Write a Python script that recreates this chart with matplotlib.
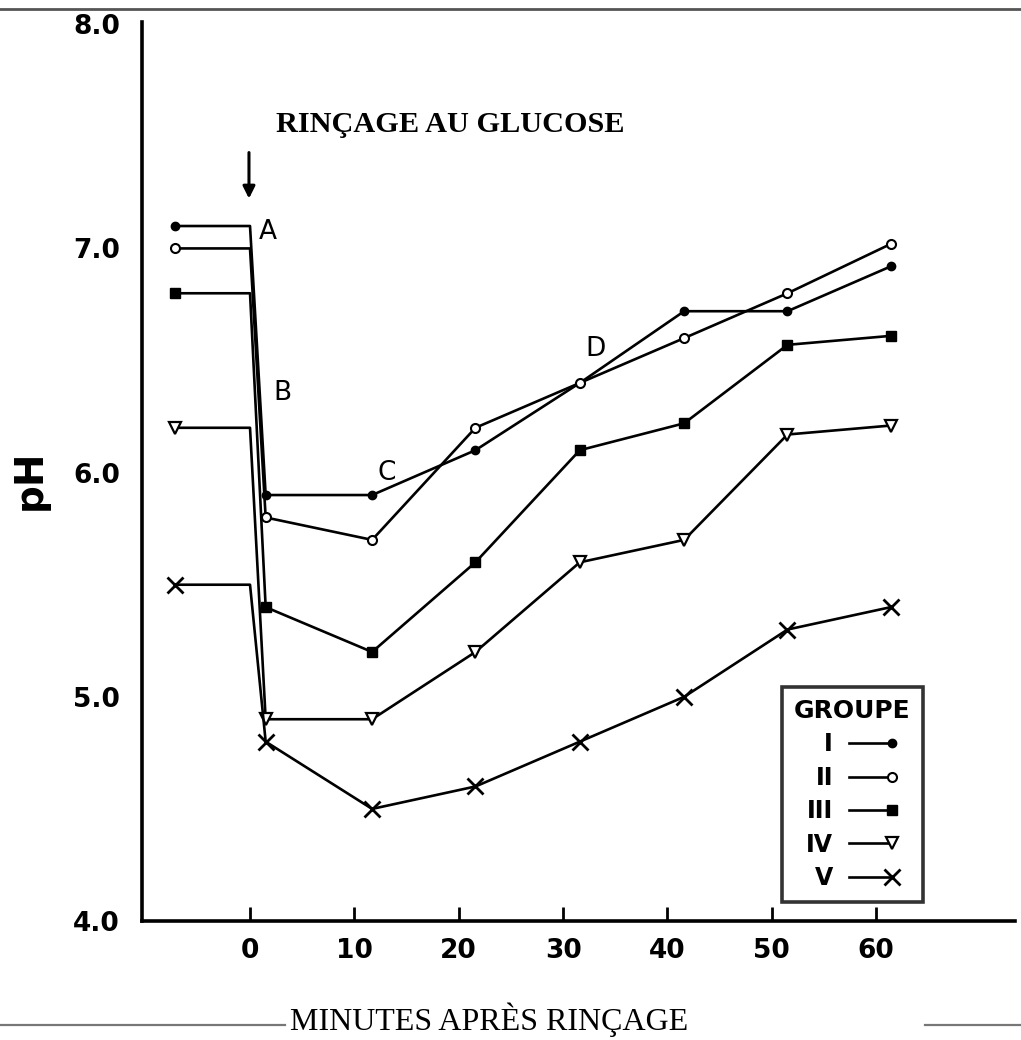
import matplotlib
matplotlib.use("Agg")
import matplotlib.pyplot as plt
from matplotlib.lines import Line2D
from matplotlib.legend_handler import HandlerLine2D

# minutes (start, rinse, just after rinse, then every ~10 min)
minutes = [-7.2, 0, 1.5, 11.7, 21.6, 31.6, 41.6, 51.5, 61.4]
ph_I = [7.1, 7.1, 5.9, 5.9, 6.1, 6.4, 6.72, 6.72, 6.92]
ph_II = [7.0, 7.0, 5.8, 5.7, 6.2, 6.4, 6.6, 6.8, 7.02]
ph_III = [6.8, 6.8, 5.4, 5.2, 5.6, 6.1, 6.22, 6.57, 6.61]
ph_IV = [6.2, 6.2, 4.9, 4.9, 5.2, 5.6, 5.7, 6.17, 6.21]
ph_V = [5.5, 5.5, 4.8, 4.5, 4.6, 4.8, 5.0, 5.3, 5.4]
groups = ["I", "II", "III", "IV", "V"]
xticks = [0, 10, 20, 30, 40, 50, 60]
yticks = [4.0, 5.0, 6.0, 7.0, 8.0]

series = [ph_I, ph_II, ph_III, ph_IV, ph_V]
styles = [
    dict(marker="o", ms=6, mfc="black"),
    dict(marker="o", ms=6.5, mfc="white", mew=1.5),
    dict(marker="s", ms=6.5, mfc="black"),
    dict(marker="v", ms=9, mfc="white", mew=1.6),
    dict(marker="x", ms=11, mew=2),
]


class EndMarker(HandlerLine2D):
    # legend sample: line with the marker at its right end
    def create_artists(self, *args, **kwargs):
        arts = super().create_artists(*args, **kwargs)
        for a in arts:
            a.set_markevery([len(a.get_xdata()) - 1])
        return arts


fig = plt.figure(figsize=(10.21, 10.40), dpi=100)
ax = fig.add_axes([142 / 1021, 1 - 921 / 1040, 873 / 1021, 899 / 1040])

handles = []
for ph, st, g in zip(series, styles, groups):
    ln, = ax.plot(minutes, ph, color="black", lw=1.9, mec="black",
                  markevery=[0, 2, 3, 4, 5, 6, 7, 8], label=g, **st)
    handles.append(ln)

ax.set_xlim(-10.35, 73.3)
ax.set_ylim(4.0, 8.01)
ax.set_xticks(xticks)
ax.set_xticklabels([str(v) for v in xticks])
ax.set_yticks(yticks)
ax.set_yticklabels(["%.1f" % v for v in yticks])
for s in ["top", "right"]:
    ax.spines[s].set_visible(False)
for s in ["left", "bottom"]:
    ax.spines[s].set_linewidth(2.6)
ax.tick_params(axis="x", direction="in", length=10, width=2, pad=12,
               labelsize=19)
ax.tick_params(axis="y", length=0, pad=16, labelsize=19)
for lab in ax.get_xticklabels() + ax.get_yticklabels():
    lab.set_fontweight("bold")

# letters along the curves
ax.text(1.7, 7.075, "A", fontsize=19, ha="center", va="center")
ax.text(3.1, 6.355, "B", fontsize=19, ha="center", va="center")
ax.text(13.1, 6.0, "C", fontsize=19, ha="center", va="center")
ax.text(33.1, 6.55, "D", fontsize=19, ha="center", va="center")
ax.annotate("", xy=(-0.1, 7.21), xytext=(-0.1, 7.44),
            arrowprops=dict(arrowstyle="-|>", color="black", lw=2.2,
                            mutation_scale=18))

leg = ax.legend(handles=handles, title="GROUPE", loc="lower left",
                bbox_to_anchor=(0.72, 0.008), markerfirst=False,
                numpoints=2, handlelength=2.4, handletextpad=0.4,
                labelspacing=0.4, fancybox=False, frameon=True,
                edgecolor="black", borderpad=0.5,
                prop=dict(size=17, weight="bold"),
                handler_map={Line2D: EndMarker()})
leg.get_title().set_fontweight("bold")
leg.get_title().set_fontsize(18)
leg.get_frame().set_linewidth(2.6)

fig.text(450 / 1021, 1 - 125 / 1040, "RINÇAGE AU GLUCOSE",
         family="Liberation Serif", fontsize=21.8, fontweight="bold",
         ha="center", va="center")
fig.text(489 / 1021, 1 - 1020 / 1040, "MINUTES APRÈS RINÇAGE",
         family="Liberation Serif", fontsize=23, ha="center", va="center")
fig.text(30 / 1021, 1 - 480 / 1040, "pH", fontsize=28, fontweight="bold",
         rotation=90, ha="center", va="center")

# scan border lines
fig.add_artist(Line2D([0, 1], [1 - 9 / 1040] * 2, color="#555555", lw=2))
fig.add_artist(Line2D([0, 285 / 1021], [1 - 1025 / 1040] * 2,
                      color="#777777", lw=1.6))
fig.add_artist(Line2D([925 / 1021, 1], [1 - 1025 / 1040] * 2,
                      color="#777777", lw=1.6))

fig.savefig("out.png", dpi=100, facecolor="white")
